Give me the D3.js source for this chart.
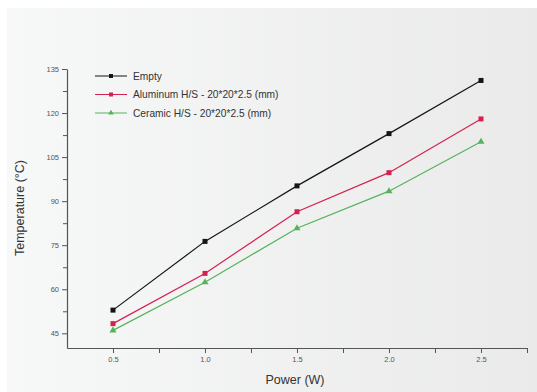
<!DOCTYPE html>
<html><head><meta charset="utf-8">
<script src="https://cdn.jsdelivr.net/npm/d3@7"></script>
<style>body{margin:0;background:#fff}svg{display:block}</style>
</head><body><svg id="c" width="537" height="392"></svg>
<script>
const powers = [0.5, 1.0, 1.5, 2.0, 2.5];
const emptyTemps = [52.9, 76.3, 95.2, 113.0, 131.1];
const aluminumTemps = [48.3, 65.4, 86.4, 99.7, 118.0];
const ceramicTemps = [46.0, 62.4, 80.8, 93.4, 110.2];
const seriesNames = ["Empty", "Aluminum H/S - 20*20*2.5 (mm)", "Ceramic H/S - 20*20*2.5 (mm)"];
const xTickValues = [0.5, 1.0, 1.5, 2.0, 2.5];
const yTickValues = [45, 60, 75, 90, 105, 120, 135];

const series = [
  {name: seriesNames[0], values: emptyTemps, color: "#151515", shape: "square"},
  {name: seriesNames[1], values: aluminumTemps, color: "#d3224f", shape: "square"},
  {name: seriesNames[2], values: ceramicTemps, color: "#56b35a", shape: "triangle"}
];

const svg = d3.select("#c");
const defs = svg.append("defs");
const grad = defs.append("linearGradient").attr("id","bg").attr("x1","0").attr("x2","1");
grad.append("stop").attr("offset","0").attr("stop-color","#f7f8f8");
grad.append("stop").attr("offset","1").attr("stop-color","#eaeaea");
svg.append("rect").attr("x",7).attr("y",8).attr("width",530).attr("height",384).attr("fill","url(#bg)");

const x = d3.scaleLinear().domain([0.25, 2.75]).range([67, 527]);
const y = d3.scaleLinear().domain([40, 135]).range([348, 69]);

const axisColor = "#555";
const xAxis = svg.append("g").attr("transform","translate(0,348)")
  .call(d3.axisBottom(x).tickValues(xTickValues).tickFormat(d3.format(".1f")).tickSize(5).tickSizeOuter(0));
const xMinor = svg.append("g").attr("transform","translate(0,348)")
  .call(d3.axisBottom(x).tickValues([0.75,1.25,1.75,2.25,2.75]).tickFormat("").tickSize(5).tickSizeOuter(0));
xMinor.select(".domain").remove();
const yAxis = svg.append("g").attr("transform","translate(67,0)")
  .call(d3.axisLeft(y).tickValues(yTickValues).tickSize(5).tickSizeOuter(0));
const yMinor = svg.append("g").attr("transform","translate(67,0)")
  .call(d3.axisLeft(y).tickValues([52.5,67.5,82.5,97.5,112.5,127.5]).tickFormat("").tickSize(4).tickSizeOuter(0));
yMinor.select(".domain").remove();

svg.selectAll(".domain").attr("stroke", axisColor).attr("stroke-width", 1.2);
svg.selectAll(".tick line").attr("stroke", axisColor);
svg.selectAll(".tick text").attr("fill","#555").attr("font-family","Liberation Sans, Arial, sans-serif").attr("font-size","7.5px");
xAxis.selectAll(".tick text").attr("dy","0.85em");

svg.append("text").attr("x",295).attr("y",384).attr("text-anchor","middle")
  .attr("font-family","Liberation Sans, Arial, sans-serif").attr("font-size","12.5px").attr("fill","#333").text("Power (W)");
svg.append("text").attr("transform","translate(24,208) rotate(-90)").attr("text-anchor","middle")
  .attr("font-family","Liberation Sans, Arial, sans-serif").attr("font-size","12.5px").attr("fill","#333").text("Temperature (°C)");

const line = d3.line().x((d,i)=>x(powers[i])).y(d=>y(d));

function marker(g, s, cx, cy, sz){
  if (s.shape === "square") {
    g.append("rect").attr("x",cx-sz/2).attr("y",cy-sz/2).attr("width",sz).attr("height",sz).attr("fill",s.color);
  } else {
    g.append("path").attr("d",d3.symbol().type(d3.symbolTriangle).size(sz*sz*0.85)()).attr("transform",`translate(${cx},${cy})`).attr("fill",s.color);
  }
}

series.forEach(s => {
  const g = svg.append("g");
  g.append("path").datum(s.values).attr("d", line).attr("fill","none").attr("stroke", s.color).attr("stroke-width",1.2);
  s.values.forEach((v,i) => marker(g, s, x(powers[i]), y(v), 5));
});

const legY = [76, 94.5, 113];
series.forEach((s,i) => {
  const g = svg.append("g");
  g.append("line").attr("x1",95).attr("x2",127).attr("y1",legY[i]).attr("y2",legY[i]).attr("stroke",s.color).attr("stroke-width",1);
  marker(g, s, 111, legY[i], 4);
  g.append("text").attr("x",133).attr("y",legY[i]).attr("dy","0.35em")
    .attr("font-family","Liberation Sans, Arial, sans-serif").attr("font-size","10.2px").attr("fill","#333").text(s.name);
});
</script></body></html>
